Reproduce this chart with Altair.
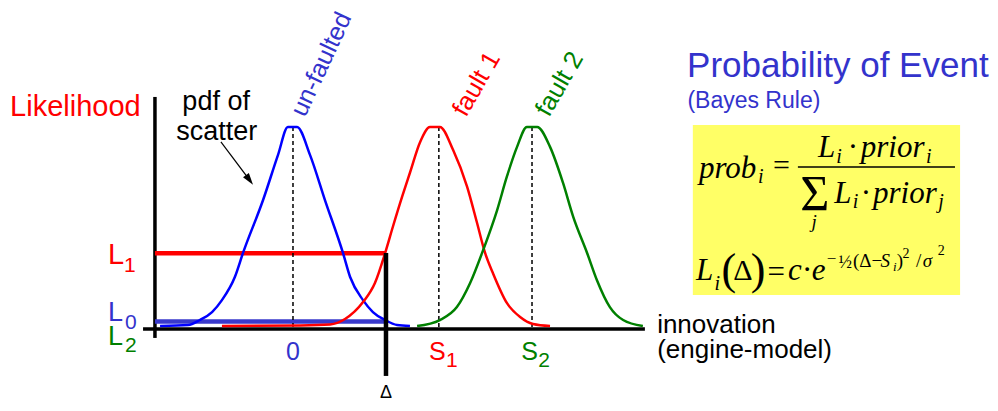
import altair as alt
import pandas as pd

# ---------------- data ----------------
# x in "innovation" units (un-faulted mean = 0), y in relative likelihood (peak = 1)
blue_x = [-3.91, -3.09, -2.74, -2.38, -2.09, -1.71, -1.47, -0.88, -0.44, -0.15, 0.12, 0.50, 0.94, 1.47, 1.68, 2.06, 2.35, 2.71, 3.06, 3.44]
blue_y = [0.0, 0.005, 0.03, 0.07, 0.13, 0.246, 0.367, 0.633, 0.86, 1.0, 1.0, 0.86, 0.633, 0.367, 0.246, 0.13, 0.07, 0.03, 0.005, 0.0]

red_x = [-2.09, 0.21, 1.09, 1.53, 2.06, 2.41, 2.71, 2.94, 3.21, 3.44, 3.74, 4.03, 4.32, 4.71, 5.12, 5.41, 5.65, 5.88, 6.29, 6.68, 7.06, 7.56]
red_y = [0.0, 0.003, 0.008, 0.035, 0.12, 0.216, 0.367, 0.5, 0.65, 0.77, 0.925, 1.0, 1.0, 0.884, 0.70, 0.52, 0.367, 0.266, 0.116, 0.045, 0.01, 0.0]

green_x = [3.65, 4.32, 4.82, 5.21, 5.59, 6.0, 6.29, 6.59, 6.88, 7.18, 7.56, 7.94, 8.24, 8.65, 8.94, 9.32, 9.71, 10.29]
green_y = [0.0, 0.03, 0.095, 0.216, 0.38, 0.58, 0.75, 0.9, 1.0, 1.0, 0.9, 0.72, 0.55, 0.367, 0.23, 0.095, 0.03, 0.0]

series_names = ["un-faulted", "fault 1", "fault 2"]
series_colors = ["#0000ff", "#ff0000", "#008000"]
means = [0.0, 4.29, 7.03]          # 0, S1, S2 (dashed markers)
delta = 2.735                       # observed innovation
L1 = 0.365
L0 = 0.022

RED = "#ff0000"
GREEN = "#008000"
BLUE2 = "#3333cc"
BLACK = "#000000"

X_DOMAIN = [-8.382, 20.5]
Y_DOMAIN = [-0.387, 1.598]
xs = alt.Scale(domain=X_DOMAIN, nice=False, zero=False)
ys = alt.Scale(domain=Y_DOMAIN, nice=False, zero=False)

# ---------------- tables ----------------
curve_rows = []
for name, col, xv, yv in zip(series_names, series_colors, [blue_x, red_x, green_x], [blue_y, red_y, green_y]):
    for a, b in zip(xv, yv):
        curve_rows.append({"series": name, "color": col, "x": a, "y": b})
curves = pd.DataFrame(curve_rows)

# (x, x2, y, y2, color, width)
base_rules = pd.DataFrame([
    (-4.06, -4.06, 1.151, -0.060, BLACK, 3.5),   # y axis
    (-4.41, 10.35, -0.015, -0.015, BLACK, 3.5),  # x axis
], columns=["x", "x2", "y", "y2", "color", "w"])

level_rules = pd.DataFrame([
    (-4.06, delta, L1, L1, RED, 4.5),
    (-4.06, delta, L0, L0, "#3a3acc", 4.5),
], columns=["x", "x2", "y", "y2", "color", "w"])

dash_rules = pd.DataFrame([(m, m, 1.0, -0.005, BLACK, 1.5) for m in means],
                          columns=["x", "x2", "y", "y2", "color", "w"])

top_rules = pd.DataFrame([
    (delta, delta, 0.367, -0.251, BLACK, 4.5),   # delta marker
    (-2.12, -1.28, 0.925, 0.734, BLACK, 1.2),    # arrow shaft
    (14.85, 19.47, 0.799, 0.799, BLACK, 1.5),    # fraction bar
], columns=["x", "x2", "y", "y2", "color", "w"])

box = pd.DataFrame([{"x": 11.76, "x2": 19.62, "y": 1.01, "y2": 0.156}])
arrow_head = pd.DataFrame([{"x": -1.28, "y": 0.734}])

SANS = "Liberation Sans"
SERIF = "Liberation Serif"
# text, x, y, size, color, angle, font, style, align
ann = [
    ("Likelihood", -8.32, 1.055, 29, RED, 0, SANS, "normal", "left"),
    ("un-faulted", 0.353, 1.045, 25, BLUE2, 295, SANS, "normal", "left"),
    ("fault 1", 5.09, 1.045, 25.5, RED, 300, SANS, "normal", "left"),
    ("fault 2", 7.53, 1.045, 25.5, GREEN, 300, SANS, "normal", "left"),
    ("L", -5.44, 0.312, 29, RED, 0, SANS, "normal", "left"),
    ("1", -4.97, 0.271, 21, RED, 0, SANS, "normal", "left"),
    ("L", -5.44, 0.024, 27, BLUE2, 0, SANS, "normal", "left"),
    ("0", -4.94, -0.016, 21, BLUE2, 0, SANS, "normal", "left"),
    ("L", -5.44, -0.097, 27, GREEN, 0, SANS, "normal", "left"),
    ("2", -4.94, -0.131, 21, GREEN, 0, SANS, "normal", "left"),
    ("S", 4.0, -0.171, 25, RED, 0, SANS, "normal", "left"),
    ("1", 4.5, -0.206, 21, RED, 0, SANS, "normal", "left"),
    ("S", 6.71, -0.171, 25, GREEN, 0, SANS, "normal", "left"),
    ("2", 7.21, -0.206, 21, GREEN, 0, SANS, "normal", "left"),
    ("innovation", 10.71, -0.035, 26, BLACK, 0, SANS, "normal", "left"),
    ("(engine-model)", 10.71, -0.161, 26, BLACK, 0, SANS, "normal", "left"),
    ("Probability of Event", 11.59, 1.251, 35, BLUE2, 0, SANS, "normal", "left"),
    ("(Bayes Rule)", 11.6, 1.095, 23, BLUE2, 0, SANS, "normal", "left"),
    ("pdf of", -2.26, 1.085, 27, BLACK, 0, SANS, "normal", "center"),
    ("scatter", -2.24, 0.935, 27, BLACK, 0, SANS, "normal", "center"),
    ("0", 0.0, -0.171, 25, BLUE2, 0, SANS, "normal", "center"),
    ("Δ", delta, -0.362, 18, BLACK, 0, SANS, "normal", "center"),
    # formula 1
    ("prob", 11.94, 0.744, 31, BLACK, 0, SERIF, "italic", "left"),
    ("i", 13.68, 0.719, 20, BLACK, 0, SERIF, "italic", "left"),
    ("=", 14.37, 0.759, 30, BLACK, 0, SERIF, "normal", "center"),
    ("L", 15.44, 0.849, 31, BLACK, 0, SERIF, "italic", "left"),
    ("i", 15.98, 0.819, 20, BLACK, 0, SERIF, "italic", "left"),
    ("·", 16.47, 0.849, 31, BLACK, 0, SERIF, "normal", "center"),
    ("prior", 16.7, 0.849, 31, BLACK, 0, SERIF, "italic", "left"),
    ("i", 18.62, 0.819, 20, BLACK, 0, SERIF, "italic", "left"),
    ("Σ", 15.35, 0.583, 50, BLACK, 0, SERIF, "normal", "center"),
    ("j", 15.33, 0.49, 19, BLACK, 0, SERIF, "italic", "center"),
    ("L", 15.92, 0.618, 31, BLACK, 0, SERIF, "italic", "left"),
    ("i", 16.46, 0.593, 20, BLACK, 0, SERIF, "italic", "left"),
    ("·", 16.85, 0.618, 31, BLACK, 0, SERIF, "normal", "center"),
    ("prior", 17.06, 0.618, 31, BLACK, 0, SERIF, "italic", "left"),
    ("j", 18.98, 0.593, 20, BLACK, 0, SERIF, "italic", "left"),
    # formula 2
    ("L", 11.85, 0.231, 31, BLACK, 0, SERIF, "italic", "left"),
    ("i", 12.4, 0.181, 20, BLACK, 0, SERIF, "italic", "left"),
    ("(", 12.82, 0.211, 44, BLACK, 0, SERIF, "normal", "center"),
    ("Δ", 13.23, 0.231, 30, BLACK, 0, SERIF, "normal", "center"),
    (")", 13.68, 0.211, 44, BLACK, 0, SERIF, "normal", "center"),
    ("=", 14.21, 0.221, 31, BLACK, 0, SERIF, "normal", "center"),
    ("c", 14.56, 0.231, 31, BLACK, 0, SERIF, "italic", "left"),
    ("·", 15.12, 0.231, 31, BLACK, 0, SERIF, "normal", "center"),
    ("e", 15.26, 0.231, 31, BLACK, 0, SERIF, "italic", "left"),
    ("−", 15.84, 0.312, 17, BLACK, 0, SERIF, "normal", "center"),
    ("½", 16.24, 0.291, 18, BLACK, 0, SERIF, "normal", "center"),
    ("(Δ−", 16.47, 0.296, 19, BLACK, 0, SERIF, "normal", "left"),
    ("S", 17.28, 0.296, 19, BLACK, 0, SERIF, "italic", "left"),
    ("i", 17.65, 0.276, 13, BLACK, 0, SERIF, "italic", "left"),
    (")", 17.76, 0.296, 19, BLACK, 0, SERIF, "normal", "left"),
    ("2", 17.93, 0.342, 14, BLACK, 0, SERIF, "normal", "left"),
    ("/", 18.4, 0.296, 19, BLACK, 0, SERIF, "normal", "center"),
    ("σ", 18.52, 0.296, 19, BLACK, 0, SERIF, "italic", "left"),
    ("2", 18.96, 0.357, 14, BLACK, 0, SERIF, "normal", "left"),
]
ann_df = pd.DataFrame(ann, columns=["text", "x", "y", "size", "color", "angle", "font", "style", "align"])

# ---------------- layers ----------------
X = alt.X("x:Q", scale=xs, axis=None)
Y = alt.Y("y:Q", scale=ys, axis=None)


def rule_layer(df, dash=None):
    kw = {"strokeDash": dash} if dash else {}
    return alt.Chart(df).mark_rule(**kw).encode(
        x=X, x2="x2:Q", y=Y, y2="y2:Q",
        color=alt.Color("color:N", scale=None),
        size=alt.Size("w:Q", scale=None),
    )


rect = alt.Chart(box).mark_rect(color="#ffff66").encode(x=X, x2="x2:Q", y=Y, y2="y2:Q")

curve_layer = alt.Chart(curves).mark_line(interpolate="monotone", strokeWidth=2.5).encode(
    x=X, y=Y,
    color=alt.Color("color:N", scale=None),
    detail="series:N",
    order="x:Q",
)

head = alt.Chart(arrow_head).mark_point(
    shape="M0,-1L0.6,1L-0.6,1Z", filled=True, size=144, angle=144, color="black", opacity=1
).encode(x=X, y=Y)

text_layers = []
for (font, style, align), sub in ann_df.groupby(["font", "style", "align"]):
    text_layers.append(
        alt.Chart(sub.reset_index(drop=True)).mark_text(
            font=font, fontStyle=style, align=align, baseline="alphabetic"
        ).encode(
            x=X, y=Y, text="text:N",
            size=alt.Size("size:Q", scale=None),
            color=alt.Color("color:N", scale=None),
            angle=alt.Angle("angle:Q", scale=None),
        )
    )

chart = alt.layer(
    rect,
    rule_layer(base_rules),
    rule_layer(level_rules),
    rule_layer(dash_rules, dash=[4, 3]),
    curve_layer,
    rule_layer(top_rules),
    head,
    *text_layers,
).properties(
    width=982, height=395, padding=0, autosize="none", background="white"
).configure_view(stroke=None)

chart.save("out.html", embed_options={"renderer": "svg", "actions": False})
